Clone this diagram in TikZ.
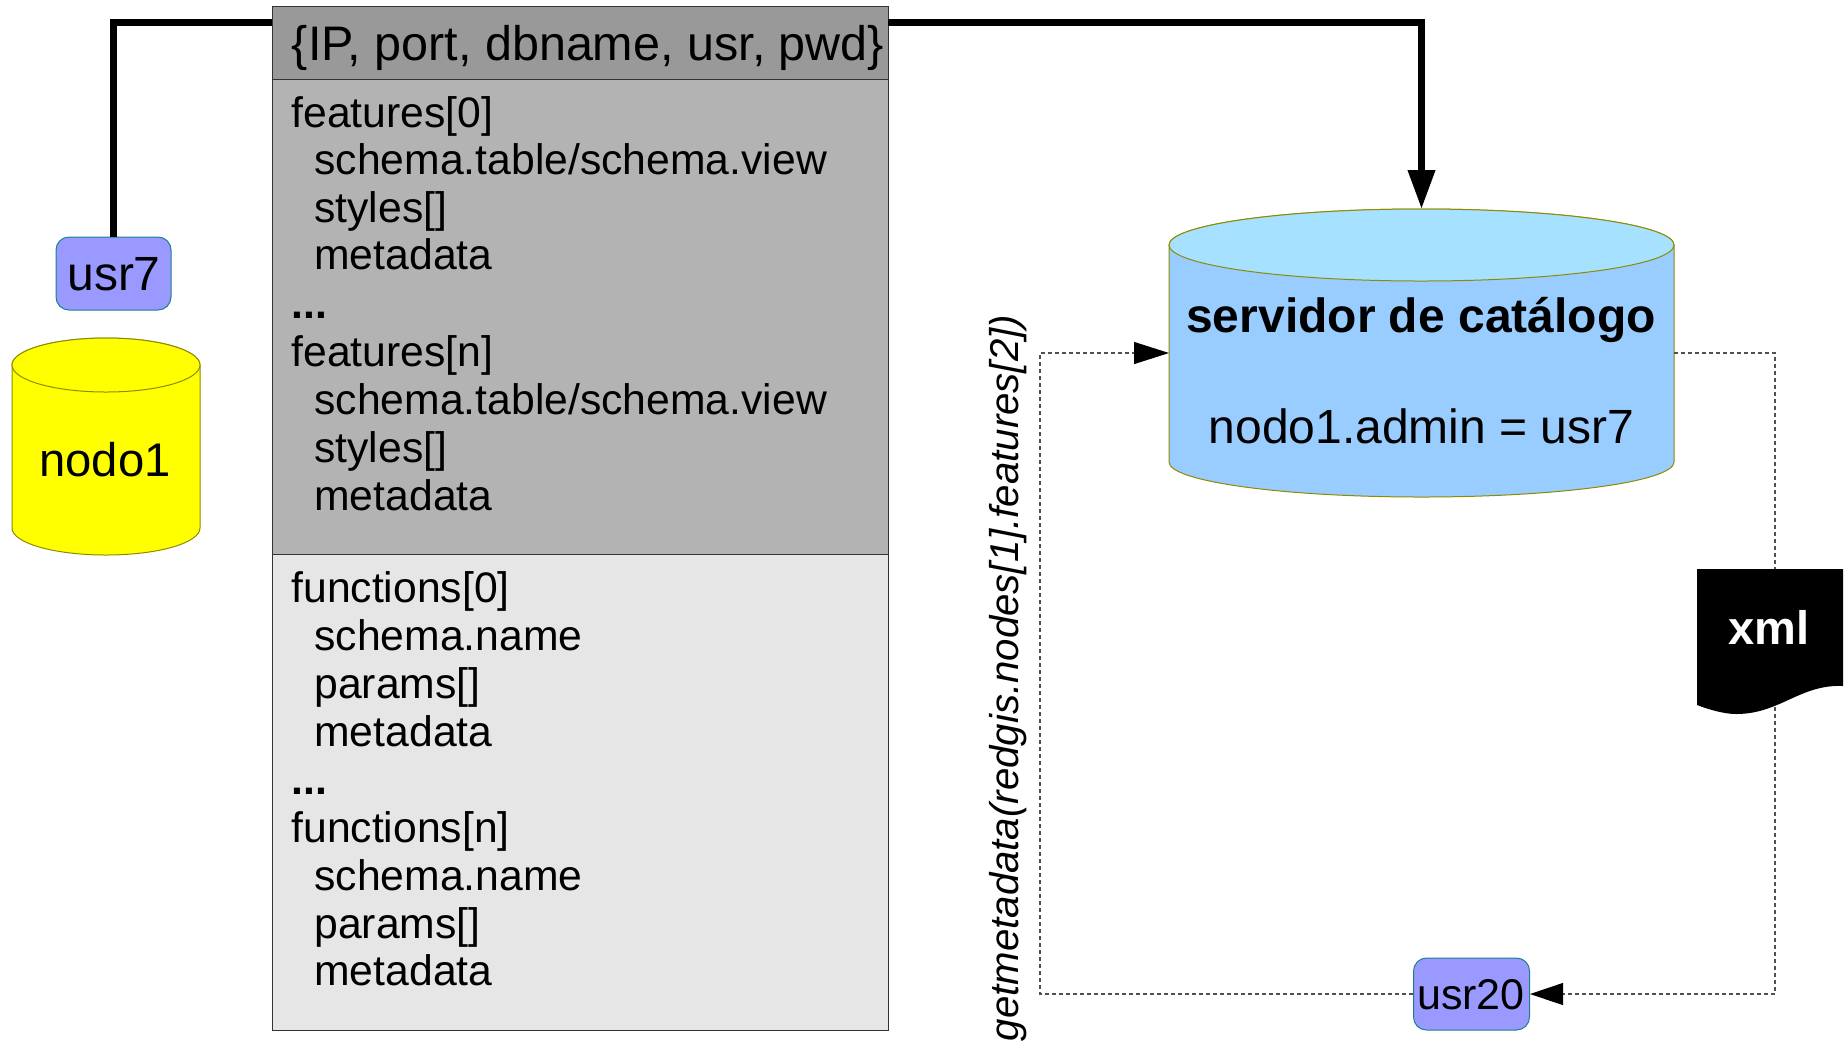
\documentclass[tikz,border=0pt]{standalone}
\usepackage{fontspec}
\setmainfont{Liberation Sans}
\usetikzlibrary{arrows.meta}
\definecolor{hdrgray}{HTML}{999999}
\definecolor{featgray}{HTML}{B3B3B3}
\definecolor{funcgray}{HTML}{E6E6E6}
\definecolor{boxedge}{HTML}{333333}
\definecolor{userfill}{HTML}{9999FF}
\definecolor{useredge}{HTML}{1B7F8C}
\definecolor{olive}{HTML}{8C8C00}
\definecolor{nodofill}{RGB}{255,255,0}
\definecolor{srvbody}{HTML}{99CCFF}
\definecolor{srvtop}{HTML}{A6E1FF}
\definecolor{dashcol}{HTML}{505050}
\tikzset{
  panel/.style={draw=boxedge,line width=.6pt,anchor=north west,inner sep=0pt,minimum width=308pt},
  tline/.style={anchor=base west,inner sep=0pt,font=\fontsize{21.35pt}{24pt}\selectfont},
  usrbox/.style={draw=useredge,line width=.5pt,fill=userfill,rounded corners=6.5pt,inner sep=0pt},
  big/.style={inner sep=0pt,anchor=base,font=\fontsize{24pt}{28pt}\selectfont},
  bigbold/.style={big,font=\fontsize{24pt}{28pt}\selectfont\bfseries},
  hollow/.style={inner sep=0pt,outer sep=0pt},
  cyledge/.style={draw=olive,line width=.5pt},
  heavy/.style={line width=3.5pt,line join=miter},
  light/.style={draw=dashcol,line width=.55pt,dash pattern=on 2pt off 1.5pt},
}
\begin{document}
\begin{tikzpicture}[x=.5pt,y=-.5pt]
\useasboundingbox (0,0) rectangle (1845,1041);
% main panel
\node[panel,minimum height=36.5pt,fill=hdrgray] (hdr) at (272,6) {};
\node[panel,minimum height=237.5pt,fill=featgray] (feat) at (272,79) {};
\node[panel,minimum height=238pt,fill=funcgray] (func) at (272,554) {};
\node[tline,font=\fontsize{24.25pt}{28pt}\selectfont] (thdr) at (291.5,60) {\{IP, port, dbname, usr, pwd\}};
\node[tline] (f1) at (291,127) {features[0]};
\node[tline] (f2) at (314,174) {schema.table/schema.view};
\node[tline] (f3) at (314,222) {styles[]};
\node[tline] (f4) at (314,269) {metadata};
\node[tline,font=\fontsize{21.35pt}{24pt}\selectfont\bfseries] (f5) at (291,318) {...};
\node[tline] (f6) at (291,366) {features[n]};
\node[tline] (f7) at (314,414) {schema.table/schema.view};
\node[tline] (f8) at (314,462) {styles[]};
\node[tline] (f9) at (314,510) {metadata};
\node[tline] (g1) at (291,602) {functions[0]};
\node[tline] (g2) at (314,650) {schema.name};
\node[tline] (g3) at (314,698) {params[]};
\node[tline] (g4) at (314,746) {metadata};
\node[tline,font=\fontsize{21.35pt}{24pt}\selectfont\bfseries] (g5) at (291,794) {...};
\node[tline] (g6) at (291,842) {functions[n]};
\node[tline] (g7) at (314,890) {schema.name};
\node[tline] (g8) at (314,938) {params[]};
\node[tline] (g9) at (314,985) {metadata};
% nodo1 cylinder
\node[hollow,minimum width=94pt,minimum height=108.5pt] (nodo) at (106,446.5) {};
\path[fill=nodofill,cyledge] (12,365) -- (12,528) arc[start angle=180,end angle=360,x radius=47pt,y radius=13.5pt] -- (200,365) arc[start angle=0,end angle=180,x radius=47pt,y radius=13.5pt] -- cycle;
\path[fill=nodofill,cyledge] (106,365) ellipse[x radius=47pt,y radius=13.5pt];
\node[big,font=\fontsize{23.6pt}{28pt}\selectfont] (tnodo) at (105,476) {nodo1};
% server cylinder
\node[hollow,minimum width=252.5pt,minimum height=144pt] (srv) at (1421.5,353) {};
\path[fill=srvbody,cyledge] (1169,245) -- (1169,462) arc[start angle=180,end angle=360,x radius=126.25pt,y radius=17.5pt] -- (1674,245) arc[start angle=0,end angle=180,x radius=126.25pt,y radius=18pt] -- cycle;
\path[fill=srvtop,cyledge] (1421.5,245) ellipse[x radius=126.25pt,y radius=18pt];
\node[bigbold] (tsrv) at (1421,332.5) {servidor de catálogo};
\node[big] (tadm) at (1421.5,443) {nodo1.admin = usr7};
% users
\node[usrbox,minimum width=57.5pt,minimum height=36.5pt] (usr7) at (113.5,273.5) {};
\node[big] (tusr7) at (114,290) {usr7};
\node[usrbox,minimum width=58pt,minimum height=36pt] (usr20) at (1471.5,994) {};
\node[tline,anchor=base,font=\fontsize{21.5pt}{24pt}\selectfont] (tusr20) at (1471,1009) {usr20};
% connectors
\coordinate (hl) at (272,22);
\coordinate (hr) at (888,22);
\draw[heavy] (usr7.north) |- (hl);
\draw[heavy,-{Triangle[length=19.5pt,width=13pt]}] (hr) -| (srv.north);
\coordinate (cr) at (1775,353);
\coordinate (cl) at (1040,353);
\draw[light,-{Triangle[length=16.5pt,width=11pt,fill=black,color=black]}] (srv.east) -- (cr) |- (usr20.east);
\draw[light,-{Triangle[length=17.5pt,width=11pt,fill=black,color=black]}] (usr20.west) -| (cl) -- (srv.west);
% xml document
\path[fill=black] (1697,569) -- (1843,569) -- (1843,686) .. controls (1800,684) and (1780,714) .. (1736,714) .. controls (1725,714) and (1710,710) .. (1697,705) -- cycle;
\node[bigbold,text=white,font=\fontsize{23.5pt}{28pt}\selectfont\bfseries] (txml) at (1769,644) {xml};
% rotated label
\node[inner sep=0pt,anchor=base,rotate=90,font=\fontsize{20.1pt}{24pt}\selectfont\itshape] (tget) at (1018,678) {getmetadata(redgis.nodes[1].features[2])};
\end{tikzpicture}
\end{document}
